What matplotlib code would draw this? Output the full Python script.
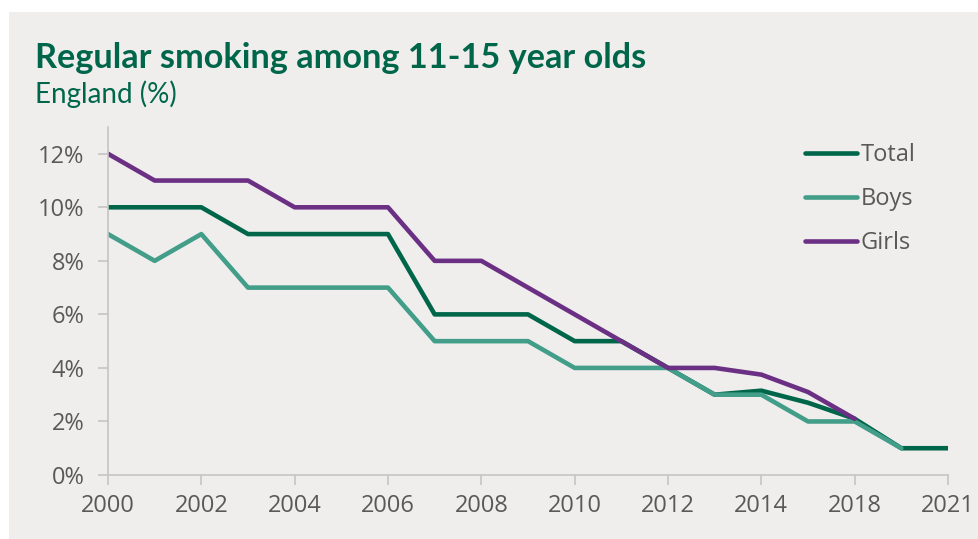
import numpy as np
import matplotlib.pyplot as plt
import matplotlib.patches as mpatches

# Data (19 survey points on a category axis, every other one labelled)
tick_labels = ['2000', '2002', '2004', '2006', '2008', '2010', '2012', '2014', '2018', '2021']
total = [10, 10, 10, 9, 9, 9, 9, 6, 6, 6, 5, 5, 4, 3, 3.15, 2.7, 2.1, 1, 1]
boys = [9, 8, 9, 7, 7, 7, 7, 5, 5, 5, 4, 4, 4, 3, 3, 2, 2, 1, np.nan]
girls = [12, 11, 11, 11, 10, 10, 10, 8, 8, 7, 6, 5, 4, 4, 3.75, 3.1, 2.1, np.nan, np.nan]

bg = '#efeeed'
green_dark = '#00664a'
teal = '#429e88'
purple = '#6b2f84'
grey_axis = '#c4c4c4'
grey_text = '#595959'

plt.rcParams['font.family'] = ['Open Sans', 'DejaVu Sans']

fig = plt.figure(figsize=(9.79, 5.39), dpi=100)
fig.patch.set_facecolor('white')
fig.patches.append(mpatches.Rectangle((9 / 979, 0), 1, 1 - 12 / 539, transform=fig.transFigure,
                                      facecolor=bg, edgecolor='none', zorder=-10))

ax = fig.add_axes([108 / 979, 1 - 475 / 539, (948 - 108) / 979, (475 - 127) / 539])
ax.set_facecolor('none')

x = np.arange(len(total))
style = dict(lw=3.3, solid_capstyle='round', solid_joinstyle='round')
ax.plot(x, total, color=green_dark, label='Total', **style)
ax.plot(x, boys, color=teal, label='Boys', **style)
ax.plot(x, girls, color=purple, label='Girls', **style)

ax.set_xlim(0, 18)
ax.set_ylim(0, 13)
ax.set_xticks(np.arange(0, 19, 2))
ax.set_xticklabels(tick_labels)
ax.set_yticks(np.arange(0, 13, 2))
ax.set_yticklabels([f'{v}%' for v in range(0, 13, 2)])

for side in ['top', 'right']:
    ax.spines[side].set_visible(False)
for side in ['left', 'bottom']:
    ax.spines[side].set_color(grey_axis)
    ax.spines[side].set_linewidth(1.2)
ax.tick_params(axis='both', colors=grey_axis, labelcolor=grey_text, labelsize=17,
               length=7, width=1.2)
ax.tick_params(axis='x', pad=7)
ax.tick_params(axis='y', pad=10)

leg = ax.legend(loc='upper left', bbox_to_anchor=((805 - 108) / 840, (475 - 143) / 348),
                frameon=False, fontsize=17, borderpad=0, borderaxespad=0,
                handlelength=2.2, handletextpad=0.15, labelspacing=0.85)
for t in leg.get_texts():
    t.set_color(grey_text)

fig.text(35 / 979, 1 - 68 / 539, 'Regular smoking among 11-15 year olds', fontsize=24.7,
         fontweight='bold', color=green_dark, family=['Lato', 'DejaVu Sans'])
fig.text(35 / 979, 1 - 103 / 539, 'England (%)', fontsize=20, color=green_dark,
         family=['Lato', 'DejaVu Sans'])

fig.savefig('out.png', dpi=100, facecolor=fig.get_facecolor())
